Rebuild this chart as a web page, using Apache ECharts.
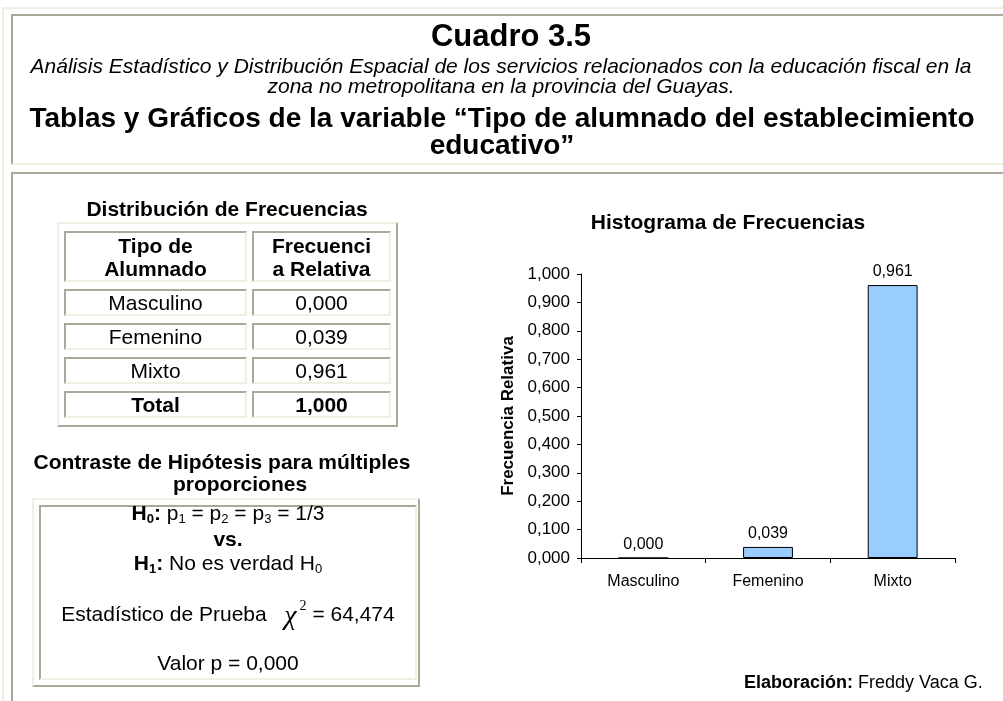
<!DOCTYPE html>
<html>
<head>
<meta charset="utf-8">
<script src="https://cdn.jsdelivr.net/npm/echarts/dist/echarts.min.js"></script>
<style>
  * { box-sizing: border-box; }
  body { margin: 0; background: #fff; font-family: "Liberation Sans", Arial, sans-serif; color: #000; }
  #page { position: relative; width: 1003px; height: 701px; overflow: hidden; }
  #chart { position: absolute; left: 0; top: 0; width: 1003px; height: 701px; }
  .abs { position: absolute; }
  .ctr { text-align: center; white-space: nowrap; }
  .outset { border-style: solid; border-width: 2px; border-color: #f1efe2 #aca899 #aca899 #f1efe2; }
  .inset { border-style: solid; border-width: 2px; border-color: #aca899 #f1efe2 #f1efe2 #aca899; }
  #freqTable { position: absolute; left: 57px; top: 222px; border-collapse: separate; border-spacing: 5px 7px; }
  #freqTable td { border-style: solid; border-width: 2px; border-color: #aca899 #f1efe2 #f1efe2 #aca899;
    text-align: center; font-size: 21px; line-height: 21px; padding: 0; height: 27px; white-space: nowrap; }
  #freqTable td.c1 { width: 183px; }
  #freqTable td.c2 { width: 139px; }
  #freqTable tr.head td { height: 51px; font-weight: bold; line-height: 23px; }
  #freqTable tr.total td { font-weight: bold; }
  .hyp { font-size: 21px; }
  .hyp sub { font-size: 13px; vertical-align: -3px; }
</style>
</head>
<body>
<div id="page">
  <div id="chart"></div>

  <!-- marcos -->
  <div class="abs outset" style="left:2px; top:7px; width:1100px; height:800px;"></div>
  <div class="abs inset" style="left:11px; top:14px; width:1080px; height:151px;"></div>
  <div class="abs inset" style="left:11px; top:172px; width:1080px; height:700px;"></div>

  <!-- encabezado -->
  <div class="abs ctr" style="left:9px; width:1004px; top:20px; font:bold 31px/31px 'Liberation Sans', Arial, sans-serif;">Cuadro 3.5</div>
  <div class="abs ctr" style="left:0; width:1002px; top:56px; font:italic 21px/20px 'Liberation Sans', Arial, sans-serif;">
    Análisis Estadístico y Distribución Espacial de los servicios relacionados con la educación fiscal en la<br>zona no metropolitana en la provincia del Guayas.</div>
  <div class="abs ctr" style="left:0; width:1004px; top:104px; font:bold 28px/27px 'Liberation Sans', Arial, sans-serif;">
    Tablas y Gráficos de la variable “Tipo de alumnado del establecimiento<br>educativo”</div>

  <!-- tabla de frecuencias -->
  <div class="abs ctr" style="left:27px; width:400px; top:199px; font:bold 21px/20px 'Liberation Sans', Arial, sans-serif;">Distribución de Frecuencias</div>
  <table id="freqTable" class="outset"></table>

  <!-- contraste de hipótesis -->
  <div class="abs ctr" style="left:22px; width:400px; top:451px; font:bold 21px/22px 'Liberation Sans', Arial, sans-serif;">Contraste de Hipótesis para múltiples</div>
  <div class="abs ctr" style="left:40px; width:400px; top:473px; font:bold 21px/22px 'Liberation Sans', Arial, sans-serif;">proporciones</div>
  <div class="abs outset" style="left:32px; top:498px; width:388px; height:189px;"></div>
  <div class="abs inset" style="left:39px; top:505px; width:378px; height:175px;"></div>
  <div class="abs ctr hyp" style="left:39px; width:378px; top:502px; line-height:22px;"><b>H<sub>0</sub>:</b> p<sub>1</sub> = p<sub>2</sub> = p<sub>3</sub> = 1/3</div>
  <div class="abs ctr hyp" style="left:39px; width:378px; top:528px; line-height:22px;"><b>vs.</b></div>
  <div class="abs ctr hyp" style="left:39px; width:378px; top:552px; line-height:22px;"><b>H<sub>1</sub>:</b> No es verdad H<sub>0</sub></div>
  <div class="abs ctr hyp" id="chiLine" style="left:39px; width:378px; top:596px; line-height:26px;"></div>
  <div class="abs ctr hyp" id="pLine" style="left:39px; width:378px; top:652px; line-height:22px;"></div>

  <!-- fuente -->
  <div class="abs" style="left:744px; top:671px; font:18px/22px 'Liberation Sans', Arial, sans-serif; white-space:nowrap;"><b>Elaboración:</b> Freddy Vaca G.</div>
</div>

<script>
const categories = ['Masculino', 'Femenino', 'Mixto']
const relFreq = [0.000, 0.039, 0.961]
const totalFreq = 1.000
const chiSquare = 64.474
const pValue = 0.000
const yMin = 0
const yMax = 1
const yStep = 0.1

const font = "'Liberation Sans', Arial, sans-serif"
const fmt = v => v.toFixed(3).replace('.', ',')

// tabla de distribución
let rows = '<tr class="head"><td class="c1">Tipo de<br>Alumnado</td><td class="c2">Frecuenci<br>a Relativa</td></tr>'
categories.forEach((c, i) => {
  rows += '<tr><td class="c1">' + c + '</td><td class="c2">' + fmt(relFreq[i]) + '</td></tr>'
})
rows += '<tr class="total"><td class="c1">Total</td><td class="c2">' + fmt(totalFreq) + '</td></tr>'
document.getElementById('freqTable').innerHTML = rows

document.getElementById('chiLine').innerHTML = 'Estadístico de Prueba&nbsp;&nbsp; ' +
  '<span style="font:italic 28px \'Liberation Serif\', serif; position:relative; top:3px;">χ</span>' +
  '<span style="font:14px \'Liberation Serif\', serif; position:relative; top:-11px; margin-left:3px;">2</span> = ' +
  chiSquare.toFixed(3).replace('.', ',')
document.getElementById('pLine').innerHTML = 'Valor p = ' + fmt(pValue)

const myChart = echarts.init(document.getElementById('chart'))
const option = {
  animation: false,
  title: {
    text: 'Histograma de Frecuencias',
    left: 723,
    top: 208,
    textAlign: 'center',
    textStyle: { fontFamily: font, fontSize: 21, fontWeight: 'bold', color: '#000' }
  },
  grid: { left: 581, top: 274, width: 374, height: 284, containLabel: false, outerBoundsMode: 'none' },
  xAxis: {
    type: 'category',
    data: categories,
    axisLine: { lineStyle: { color: '#000', width: 1 } },
    axisTick: { show: true, length: 5, lineStyle: { color: '#000' } },
    axisLabel: { fontFamily: font, fontSize: 16, color: '#000', margin: 16 },
    splitLine: { show: false }
  },
  yAxis: {
    type: 'value',
    min: yMin,
    max: yMax,
    interval: yStep,
    name: 'Frecuencia Relativa',
    nameLocation: 'middle',
    nameGap: 64,
    nameTextStyle: { fontFamily: font, fontSize: 17, fontWeight: 'bold', color: '#000' },
    axisLine: { show: true, lineStyle: { color: '#000', width: 1 } },
    axisTick: { show: true, length: 4, lineStyle: { color: '#000' } },
    axisLabel: { fontFamily: font, fontSize: 17, color: '#000', margin: 11, formatter: v => fmt(v) },
    splitLine: { show: false }
  },
  series: [
    {
      type: 'bar',
      data: relFreq,
      barWidth: '40%',
      itemStyle: { color: '#99ccff', borderColor: '#000', borderWidth: 1 },
      label: {
        show: true,
        position: 'top',
        distance: 5,
        fontFamily: font,
        fontSize: 16,
        color: '#000',
        formatter: p => fmt(p.value)
      }
    }
  ]
}
myChart.setOption(option)
</script>
</body>
</html>
